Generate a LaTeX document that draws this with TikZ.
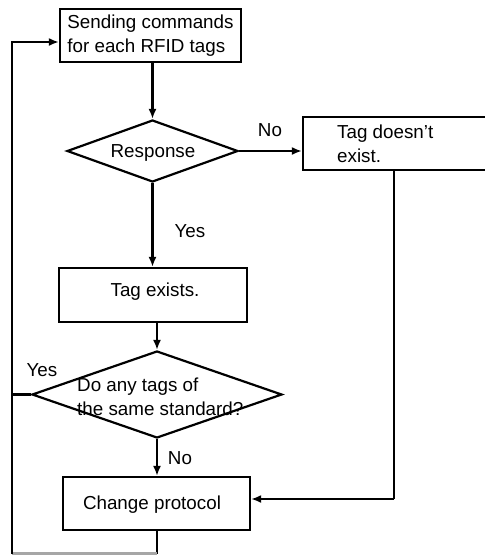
\documentclass[tikz,border=0pt]{standalone}
\usepackage{fontspec}
\setmainfont{Liberation Sans}
\usetikzlibrary{shapes.geometric,arrows.meta}
\begin{document}
\begin{tikzpicture}[x=1pt,y=-1pt,
  every node/.style={font=\fontsize{18.8}{24}\selectfont},
  flowbox/.style={draw,line width=2.2pt,rectangle,inner sep=0pt},
  decision/.style={draw,line width=2.2pt,diamond,inner sep=0pt,shape aspect=2},
  txt/.style={inner sep=0pt,align=left},
  conn/.style={line width=2.2pt},
  arr/.style={conn,-{Latex[length=10pt,width=8pt]}},
  lbl/.style={inner sep=0pt}]
\useasboundingbox (0,0) rectangle (485,555);
% boxes
\node[flowbox,minimum width=181pt,minimum height=53pt] (b1) at (150.5,35.5) {};
\node[txt] (t1) at (150.5,36) {Sending commands\\for each RFID tags};
\node[decision,minimum width=171pt,minimum height=62pt] (d1) at (152.5,151) {};
\node[lbl] (t2) at (153,153) {Response};
\node[flowbox,minimum width=187pt,minimum height=53pt] (b2) at (396.5,143.5) {};
\node[txt,anchor=west] (t3) at (337,144) {Tag doesn’t\\exist.};
\node[flowbox,minimum width=188pt,minimum height=54pt] (b3) at (153,295) {};
\node[lbl] (t4) at (155,292) {Tag exists.};
\node[decision,minimum width=250pt,minimum height=87pt] (d2) at (157,394.5) {};
\node[txt,anchor=west] (t5) at (77,397) {Do any tags of\\the same standard?};
\node[flowbox,minimum width=187pt,minimum height=53pt] (b5) at (156.5,503.5) {};
\node[lbl] (t6) at (152,505) {Change protocol};
% labels
\node[lbl] (no1) at (270,130) {No};
\node[lbl] (yes1) at (190,231) {Yes};
\node[lbl] (yes2) at (42,370) {Yes};
\node[lbl] (no2) at (180,458) {No};
% coordinates
\coordinate (fbtop) at (12,42);
\coordinate (fbmid) at (12,394.5);
\coordinate (fbbot) at (12,553.5);
\coordinate (b5bot) at (157,553.5);
\coordinate (b2turn) at (394,499);
% connectors
\draw[arr] (b1.south -| d1.north) -- (d1.north);
\draw[arr] (d1.east) -- (d1.east -| b2.west);
\draw[arr] (d1.south) -- (d1.south |- b3.north);
\draw[arr] (b3.south -| d2.north) -- (d2.north);
\draw[arr] (d2.south) -- (d2.south |- b5.north);
\draw[conn] (b2.south -| b2turn) -- (b2turn);
\draw[arr] (b2turn) -- (b2turn -| b5.east);
\draw[conn] (d2.west) -- (fbmid);
\draw[conn] (b5.south -| b5bot) -- (b5bot);
\draw[conn,black!35] (b5bot) -- (fbbot);
\draw[arr] (fbbot) -- (fbtop) -- (fbtop -| b1.west);
\end{tikzpicture}
\end{document}
